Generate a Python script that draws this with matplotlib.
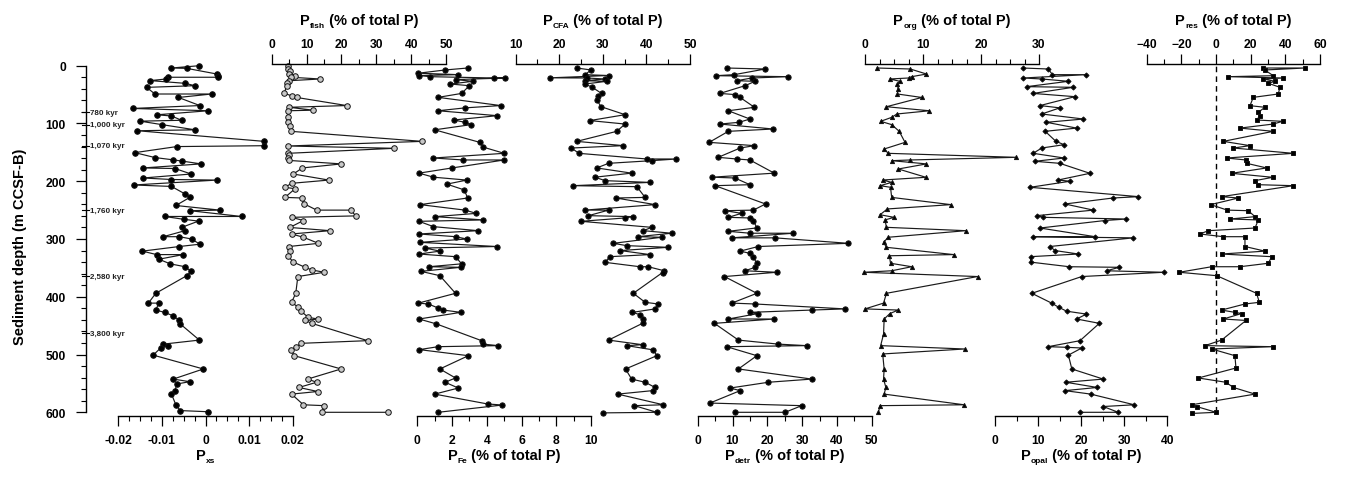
import numpy as np
import matplotlib
matplotlib.use('Agg')
import matplotlib.pyplot as plt
from matplotlib.ticker import MultipleLocator
from matplotlib.lines import Line2D
import matplotlib.transforms as mtransforms

plt.rcParams['font.family'] = ['Liberation Sans', 'DejaVu Sans']
plt.rcParams['font.weight'] = 'bold'

# ---------------- data (depth in m CCSF-B, value) ----------------
xs_depth = [0, 4, 4.6, 14.4, 17, 20, 20, 23, 25.8, 30.5, 34.6, 37.5, 49, 49, 55, 69, 74, 78, 85, 87,
            94.5, 96, 102, 111, 112.6, 131, 138.5, 140, 150.5, 159, 163, 165, 170, 177, 178, 187.5,
            194.4, 197, 198, 206.5, 209, 222, 228, 242, 250, 251, 261, 261, 266, 269, 280, 285.6,
            296, 296, 300, 309, 313, 321, 327, 327, 335, 343, 348, 356, 363.5, 394, 411, 411, 423,
            427, 433, 441, 447, 475, 482, 485, 488, 501, 525, 542.5, 547, 551, 563, 568.5, 587,
            597, 599]
xs_val = [-0.0014, -0.0078, -0.0043, 0.0026, 0.0028, 0.0029, -0.0085, -0.0090, -0.0127, -0.0047,
          -0.0024, -0.0135, -0.0116, 0.0014, -0.0062, -0.0013, -0.0167, 0.0006, -0.0112, -0.0078,
          -0.0055, -0.0150, -0.0100, -0.0024, -0.0156, 0.0135, 0.0135, -0.0066, -0.0162, -0.0116,
          -0.0074, -0.0055, -0.0010, -0.0143, -0.0070, -0.0033, -0.0143, -0.0078, 0.0026, -0.0165,
          -0.0078, -0.0047, -0.0036, -0.0068, 0.0033, -0.0036, 0.0083, -0.0094, -0.0049, -0.0016,
          -0.0055, -0.0047, -0.0097, -0.0060, -0.0032, -0.0013, -0.0060, -0.0145, -0.0112, -0.0051,
          -0.0107, -0.0081, -0.0047, -0.0033, -0.0043, -0.0114, -0.0131, -0.0107, -0.0114, -0.0094,
          -0.0074, -0.0060, -0.0058, -0.0014, -0.0097, -0.0085, -0.0102, -0.0120, -0.0005, -0.0074,
          -0.0036, -0.0066, -0.0070, -0.0078, -0.0068, -0.0058, 0.0005]

fish_depth = [1, 5.7, 10, 14.4, 17, 20, 23, 26, 30, 34.6, 48, 52, 55, 69, 72, 77, 78, 89.4, 98, 104,
              113.6, 131, 139, 143, 151.7, 155, 159.8, 164, 170, 177, 187.5, 198, 203.6, 210.5, 213,
              228, 229, 239.4, 250, 250, 260, 262.5, 268, 280, 285.6, 291.3, 297, 307.5, 313, 320,
              329, 340, 349, 353.6, 357.6, 365, 394, 409.6, 418, 425, 435.6, 438.5, 441, 446, 476,
              480.6, 487.5, 492, 502, 525, 542.5, 548, 557, 564, 568.5, 587, 588.5, 600, 600]
fish_val = [4.8, 4.8, 5.2, 5.0, 6.7, 5.5, 13.9, 5.0, 4.5, 4.3, 3.6, 5.7, 7.2, 21.5, 5.0, 11.9, 4.8,
            4.6, 4.6, 5.2, 5.5, 43.2, 4.6, 35.2, 4.6, 5.0, 4.6, 5.0, 20.0, 8.8, 6.2, 16.4, 5.7, 3.8,
            6.7, 3.8, 8.6, 9.4, 12.9, 22.7, 24.1, 5.7, 9.1, 5.2, 16.7, 5.7, 9.1, 13.4, 5.0, 5.2, 4.6,
            6.2, 9.6, 11.5, 15.1, 7.5, 6.9, 5.7, 7.6, 8.4, 10.5, 13.2, 9.6, 11.5, 27.5, 8.4, 6.9, 5.5,
            6.5, 19.9, 10.3, 12.9, 7.8, 13.2, 5.7, 9.1, 15.1, 14.5, 33.4]

fe_depth = [4, 7.4, 13, 15.5, 17, 19, 21.3, 21.3, 24, 27, 31.7, 34.6, 48, 54.8, 69, 73, 78, 86.5, 94,
            98, 102, 111, 132.7, 141, 151.7, 159.8, 163.2, 163.2, 177, 186, 193, 198, 205, 215, 229,
            240.5, 250, 255.6, 261.3, 267, 269.4, 278.6, 285.6, 291.3, 296, 300, 305.8, 313, 315.6,
            321, 326, 330.6, 343, 348, 349, 356, 363.5, 394, 411, 412.5, 419.4, 423, 427, 438.5, 447,
            476, 482, 484.6, 486.4, 491.5, 502, 525, 540.6, 548, 558, 568.5, 585.6, 587.4, 600]
fe_val = [2.9, 1.6, 0.06, 2.36, 0.1, 0.73, 4.44, 5.05, 2.2, 3.2, 1.9, 3.0, 2.55, 1.2, 4.8, 2.75, 1.2,
          4.6, 2.1, 2.75, 3.1, 1.0, 3.6, 3.8, 5.0, 0.93, 2.65, 5.0, 2.0, 0.1, 0.93, 2.85, 1.7, 2.7,
          2.9, 0.16, 2.75, 3.4, 1.02, 3.8, 0.1, 0.93, 3.5, 0.1, 2.2, 2.85, 0.16, 4.57, 0.44, 1.3, 0.1,
          2.2, 2.55, 0.67, 2.5, 0.21, 1.3, 2.2, 0.06, 0.63, 1.2, 1.5, 2.5, 0.1, 1.1, 3.7, 3.8, 4.66,
          1.2, 0.12, 2.94, 1.3, 2.2, 1.6, 2.36, 1.0, 4.05, 4.9, 1.2]

cfa_depth = [4, 7.4, 15.5, 17, 21, 21.3, 23, 26, 27, 31.7, 37.5, 48, 52, 59.4, 71, 84.8, 95, 101,
             113.6, 131, 138.4, 142.5, 151.7, 161.5, 161.5, 164.4, 169, 177, 186, 193, 199, 202,
             207.7, 209.4, 228, 229, 240.5, 250, 250, 259.6, 261.3, 263.6, 269.4, 279.8, 285.6, 290,
             296, 297, 307.5, 311.5, 314.4, 320, 327, 330.6, 340.4, 348, 348, 355, 358, 394, 409.6,
             412.5, 421, 427, 431, 438.5, 446, 475, 483, 484.6, 492, 502, 525, 542.5, 548, 557, 562.5,
             568.5, 587, 588.5, 600, 601]
cfa_val = [24.0, 27.3, 25.9, 31.3, 17.9, 26.3, 30.5, 25.8, 30.9, 25.9, 27.6, 29.7, 29.0, 28.6, 29.6,
           35.1, 27.0, 35.1, 33.2, 24.0, 34.7, 22.8, 24.5, 40.1, 46.9, 41.2, 31.3, 28.6, 36.6, 28.2,
           30.5, 40.8, 23.2, 37.8, 39.7, 33.0, 42.0, 25.9, 31.3, 26.7, 37.0, 35.0, 25.0, 41.2, 39.3,
           45.8, 38.0, 43.5, 32.4, 35.5, 45.0, 34.0, 40.8, 31.6, 30.5, 38.5, 40.4, 44.1, 43.7, 37.0,
           39.7, 42.7, 42.0, 36.8, 38.5, 39.3, 39.1, 31.3, 39.1, 35.5, 41.6, 42.4, 35.2, 36.6, 39.7,
           42.0, 41.4, 33.4, 43.9, 37.2, 42.4, 30.1]

detr_depth = [4, 5.7, 15.5, 17.3, 19, 21.3, 26, 27, 34.6, 48, 50, 55, 72, 78, 92.3, 98, 101, 109.6,
              113.6, 132.7, 138.4, 142.5, 158.6, 161.5, 163.2, 186, 193, 194.4, 206, 207.7, 239.4,
              250, 251, 255.6, 262.5, 263.6, 268, 280.8, 286.7, 290, 290, 298, 298, 307.5, 313, 321,
              324.8, 331.7, 342, 349, 355, 357.6, 365, 394, 411, 412.5, 421, 423, 427, 429, 438.5,
              438.5, 446, 475, 482, 484.6, 486.4, 502, 525, 542.5, 548, 558, 562.5, 584, 588.5, 600,
              600]
detr_val = [8.3, 19.4, 10.5, 5.2, 26.0, 15.5, 11.2, 16.5, 13.6, 6.4, 10.7, 12.2, 16.3, 8.8, 15.0,
            11.9, 6.4, 21.7, 8.8, 3.3, 16.3, 12.2, 5.9, 11.2, 15.0, 22.0, 4.2, 10.7, 15.0, 5.0, 19.5,
            16.0, 7.9, 12.6, 8.8, 15.0, 16.0, 17.0, 8.8, 15.0, 27.5, 9.8, 22.2, 43.3, 17.4, 12.2, 15.0,
            16.0, 17.0, 16.5, 13.6, 22.7, 7.7, 17.0, 9.8, 16.5, 42.3, 32.8, 15.0, 17.4, 8.8, 22.0, 4.8,
            11.7, 23.2, 31.3, 8.3, 17.0, 11.7, 32.8, 20.3, 9.3, 12.2, 3.5, 29.9, 25.1, 10.7]

org_depth = [4, 5.7, 14.4, 19, 21.3, 23, 27, 31.7, 40.3, 49, 55, 71, 78, 83.6, 89.4, 96.3, 102, 113.6,
             132.7, 144.2, 151.7, 158.6, 163.2, 164.4, 170, 178.8, 193.2, 197.9, 202, 207.7, 210.5,
             228, 240.5, 248, 258, 262.5, 267, 279.8, 285.6, 297, 305.8, 314.4, 327, 329, 342, 348,
             355, 357.6, 365, 394, 411, 421, 423, 429, 438.5, 464.4, 484.6, 490.4, 499, 525, 542.5,
             557, 568.5, 587, 588.5, 600]
org_val = [2.1, 7.8, 10.6, 8.05, 7.5, 4.3, 6.0, 5.6, 5.7, 5.6, 9.8, 3.7, 11.1, 5.5, 4.6, 2.7, 4.6, 5.9,
           6.9, 3.3, 4.0, 26.1, 7.8, 4.6, 10.6, 5.75, 10.5, 3.05, 4.6, 2.6, 4.4, 4.6, 14.8, 3.85, 2.6,
           5.0, 3.45, 3.7, 17.4, 4.0, 3.2, 3.7, 15.3, 4.2, 4.4, 8.05, 4.6, -0.2, 19.4, 3.7, 3.2, 0.0,
           5.75, 4.3, 3.3, 3.2, 2.7, 17.2, 3.05, 3.3, 3.2, 3.6, 3.3, 17.1, 2.6, 2.3]

opal_depth = [4, 5.7, 15.5, 15.5, 21.3, 23, 27, 36.3, 37.4, 48, 53.6, 69, 73, 83.6, 92.3, 98, 108,
              113.6, 131, 136.7, 142.5, 151.7, 159.8, 165.5, 169, 186.3, 197.9, 200, 210.5, 226.7,
              229, 239.4, 250, 259.6, 262.5, 265.4, 268, 281, 296, 296, 298, 313, 320, 326, 330.6,
              340, 348, 349, 355, 357.6, 365, 394, 411, 418, 425, 430, 438.5, 446, 476, 486.4, 487.5,
              488.7, 501, 525, 542.5, 548, 557, 562.5, 568.5, 587, 590, 600, 600]
opal_val = [6.4, 12.3, 13.3, 21.2, 6.5, 10.8, 17.0, 7.3, 18.1, 8.8, 18.5, 10.4, 15.0, 10.8, 20.5, 11.9,
            18.9, 11.6, 14.1, 16.0, 10.8, 8.8, 16.0, 9.2, 15.0, 22.0, 14.6, 17.4, 8.1, 33.3, 27.4, 16.2,
            22.8, 9.6, 11.2, 30.5, 25.5, 10.4, 23.2, 8.8, 32.1, 12.7, 13.9, 19.3, 8.2, 8.2, 17.2, 28.8,
            25.9, 39.2, 20.1, 8.5, 13.1, 14.7, 16.6, 21.2, 18.9, 24.2, 19.7, 12.3, 16.6, 20.1, 17.0,
            17.8, 25.1, 16.4, 23.7, 16.2, 22.2, 32.3, 25.1, 28.6, 19.7]

res_depth = [4, 4, 7.4, 17.3, 19, 21.3, 23, 27, 30.5, 37.4, 49, 54.8, 69.2, 72, 80.7, 86.5, 94, 96.3,
             101, 108, 113.6, 131, 138.4, 142.5, 151.7, 159.8, 163.2, 169, 177, 186.3, 193.2, 199,
             206, 207.7, 226.7, 229, 240.5, 250, 251, 261.3, 265.4, 267, 281, 285.6, 291.3, 296, 296,
             313, 321, 326, 330.6, 342, 348, 348, 357.6, 363.5, 394, 409.6, 412.5, 423, 427, 429,
             438.5, 441, 475, 484.6, 486.4, 490.4, 502, 523.3, 540.6, 548, 557, 568.5, 587, 590, 600,
             602]
res_val = [27.3, 51.3, 28.2, 33.0, 7.1, 38.8, 27.3, 34.0, 30.2, 36.9, 35.9, 21.5, 19.6, 28.2, 24.4,
           25.4, 23.4, 38.4, 33.0, 13.8, 33.0, 4.2, 19.6, 10.0, 44.6, 6.1, 17.3, 17.7, 29.2, 9.0, 32.7,
           22.5, 24.4, 44.6, 3.2, 12.9, -3.1, 6.5, 18.6, 22.5, 8.1, 24.4, 22.5, -4.4, -9.3, 4.2, 16.7,
           16.7, 28.2, 3.2, 32.1, 30.2, 13.8, -2.5, -21.2, 0.4, 23.4, 25.0, 16.7, 3.2, 10.9, 14.8, 4.2,
           17.3, 3.2, -6.4, 33.0, -2.5, 10.9, 11.5, -10.2, 5.7, 10.0, 22.5, -14.1, -11.2, 0.0, -14.1]

age_depths = [80.7, 102.6, 138.5, 249.8, 364.6, 463.3]
age_labels = ['780 kyr', '1,000 kyr', '1,070 kyr', '1,760 kyr', '2,580 kyr', '3,800 kyr']

# ---------------- layout ----------------
W, H = 1346, 481
fig = plt.figure(figsize=(W / 100, H / 100), dpi=100)
renderer = fig.canvas.get_renderer()
Y_TOP, Y_BOT = 66.7, 413.3


def rect(x0, x1):
    return [x0 / W, 1 - Y_BOT / H, (x1 - x0) / W, (Y_BOT - Y_TOP) / H]


def fx(px):
    return px / W


def fy(py):
    return 1 - py / H


TICK_FS = 8.7
LAB_FS = 10.5
SUB_FS = 6.0


def draw_label(cx, base_y, sub, rest):
    """Axis title 'P' + small subscript + rest, centred at cx (px), baseline base_y (px)."""
    parts = [('P', LAB_FS, 0.0), (sub, SUB_FS, 3.0), (rest, LAB_FS, 0.0)]
    widths = []
    for s, fs, _ in parts:
        t = fig.text(0, 0, s, fontsize=fs, fontweight='bold')
        widths.append(t.get_window_extent(renderer).width if s else 0)
        t.remove()
    x = cx - sum(widths) / 2
    for (s, fs, dy), w in zip(parts, widths):
        if s:
            fig.text(fx(x), fy(base_y + dy), s, fontsize=fs, fontweight='bold', ha='left',
                     va='baseline')
        x += w


# depth (host) axis
ax0 = fig.add_axes(rect(86, 300))
ax0.patch.set_visible(False)
for s in ['top', 'right', 'bottom']:
    ax0.spines[s].set_visible(False)
ax0.spines['left'].set_linewidth(1.0)
ax0.set_ylim(600, 0)
ax0.set_xticks([])
ax0.yaxis.set_major_locator(MultipleLocator(100))
ax0.yaxis.set_minor_locator(MultipleLocator(20))
ax0.tick_params(axis='y', which='major', length=7.5, width=0.9, pad=7, labelsize=TICK_FS)
ax0.tick_params(axis='y', which='minor', length=3.5, width=0.8)
for t in ax0.get_yticklabels():
    t.set_fontweight('bold')
fig.text(fx(20), fy(247), 'Sediment depth (m CCSF-B)', rotation=90, ha='center', va='center',
         fontsize=LAB_FS, fontweight='bold')

trans_age = mtransforms.blended_transform_factory(fig.transFigure, ax0.transData)
for d, lab in zip(age_depths, age_labels):
    fig.add_artist(Line2D([fx(81.5), fx(89)], [d, d], transform=trans_age, color='k', lw=0.8))
    fig.text(fx(90), d, lab, transform=trans_age, fontsize=5.8, fontweight='bold', va='center',
             ha='left', color='#222222')

panels = [
    dict(d=xs_depth, v=xs_val, x0=118.3, x1=292.7, lim=(-0.02, 0.02), maj=0.01, mnr=0.0025,
         side='bottom', sub='xs', rest='', fmt=lambda x: '0' if abs(x) < 1e-9 else f'{x:.2f}',
         mk='o', ms=4.0, mfc='k'),
    dict(d=fish_depth, v=fish_val, x0=271.7, x1=446, lim=(0, 50), maj=10, mnr=5, side='top',
         sub='fish', rest=' (% of total P)', mk='o', ms=4.0, mfc='#c8c8c8'),
    dict(d=fe_depth, v=fe_val, x0=417.3, x1=591, lim=(0, 10), maj=2, mnr=1, side='bottom',
         sub='Fe', rest=' (% of total P)', mk='o', ms=3.8, mfc='k'),
    dict(d=cfa_depth, v=cfa_val, x0=515.7, x1=690, lim=(10, 50), maj=10, mnr=5, side='top',
         sub='CFA', rest=' (% of total P)', mk='o', ms=3.8, mfc='k'),
    dict(d=detr_depth, v=detr_val, x0=697.7, x1=871.7, lim=(0, 50), maj=10, mnr=5, side='bottom',
         sub='detr', rest=' (% of total P)', mk='o', ms=3.8, mfc='k'),
    dict(d=org_depth, v=org_val, x0=865, x1=1039, lim=(0, 30), maj=10, mnr=2.5, side='top',
         sub='org', rest=' (% of total P)', mk='^', ms=3.0, mfc='k'),
    dict(d=opal_depth, v=opal_val, x0=995.3, x1=1167.3, lim=(0, 40), maj=10, mnr=5, side='bottom',
         sub='opal', rest=' (% of total P)', mk='D', ms=2.6, mfc='k'),
    dict(d=res_depth, v=res_val, x0=1146.7, x1=1320, lim=(-40, 60), maj=20, mnr=10, side='top',
         sub='res', rest=' (% of total P)', mk='s', ms=2.6, mfc='k'),
]

for p in panels:
    ax = fig.add_axes(rect(p['x0'], p['x1']))
    ax.patch.set_visible(False)
    for s in ['top', 'bottom', 'left', 'right']:
        ax.spines[s].set_visible(s == p['side'])
    ax.spines[p['side']].set_linewidth(1.0)
    ax.spines[p['side']].set_position(('outward', 2.5 if p['side'] == 'bottom' else 1.0))
    ax.set_ylim(600, 0)
    ax.set_xlim(*p['lim'])
    ax.tick_params(left=False, labelleft=False)
    ax.xaxis.set_ticks_position(p['side'])
    ax.xaxis.set_major_locator(MultipleLocator(p['maj']))
    ax.xaxis.set_minor_locator(MultipleLocator(p['mnr']))
    ax.tick_params(axis='x', which='major', direction='out', length=7.5, width=0.9,
                   pad=5.8 if p['side'] == 'bottom' else 2.5, labelsize=TICK_FS)
    ax.tick_params(axis='x', which='minor', direction='out', length=3.5, width=0.8)
    if 'fmt' in p:
        ax.xaxis.set_major_formatter(plt.FuncFormatter(lambda x, pos, f=p['fmt']: f(x)))
    for t in ax.get_xticklabels():
        t.set_fontweight('bold')
    cx = (p['x0'] + p['x1']) / 2
    draw_label(cx, 460 if p['side'] == 'bottom' else 25, p['sub'], p['rest'])
    order = np.argsort(np.asarray(p['d']), kind='stable')
    dd = np.asarray(p['d'])[order]
    vv = np.asarray(p['v'])[order]
    if p['side'] == 'top' and p['lim'][0] < 0:
        ax.axvline(0, ymin=0, ymax=1, color='k', lw=1.0, ls=(0, (4, 3)))
    ax.plot(vv, dd, '-', color='#1a1a1a', lw=0.85, marker=p['mk'], ms=p['ms'], mfc=p['mfc'],
            mec='#111111', mew=0.7, clip_on=False)

fig.savefig('out.png', dpi=100)
